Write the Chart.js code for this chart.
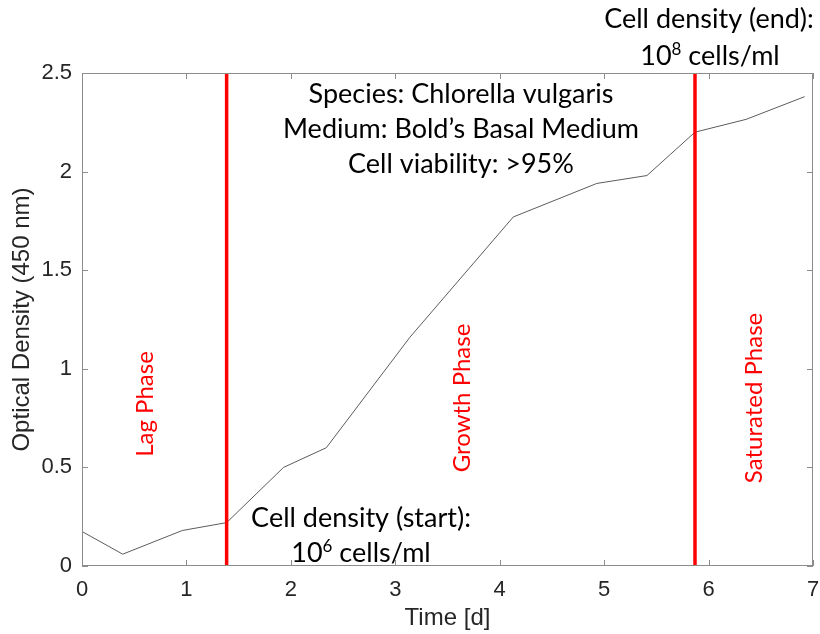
<!DOCTYPE html>
<html>
<head>
<meta charset="utf-8">
<script src="https://cdn.jsdelivr.net/npm/chart.js@4.4.1/dist/chart.umd.min.js"></script>
<style>
  html, body { margin: 0; padding: 0; background: #fff; overflow: hidden; }
  canvas { display: block; }
</style>
</head>
<body>
<canvas id="growth" width="820" height="634"></canvas>
<script>
// values
const timeDays = [0, 0.39, 0.96, 1.385, 1.93, 2.34, 3.14, 4.13, 4.93, 5.41, 5.87, 6.36, 6.92];
const opticalDensity = [0.175, 0.06, 0.18, 0.22, 0.50, 0.60, 1.16, 1.77, 1.94, 1.98, 2.20, 2.265, 2.38];
const phaseBoundaries = [1.385, 5.87];
const xTicks = [0, 1, 2, 3, 4, 5, 6, 7];
const yTicks = [0, 0.5, 1, 1.5, 2, 2.5];
const phaseLabels = ['Lag Phase', 'Growth Phase', 'Saturated Phase'];
const infoLines = ['Species: Chlorella vulgaris', 'Medium: Bold\u2019s Basal Medium', 'Cell viability: >95%'];

const TICK_FONT = { family: 'Liberation Sans, Arial, sans-serif', size: 22 };
const TEXT_FAMILY = 'Lato, sans-serif';
const AXIS_GRAY = '#8c8c8c';

// "10^n cells/ml" with a real superscript, centred on cx
function drawPower(ctx, exp, cx, baseline, size) {
  const big = size + 'px ' + TEXT_FAMILY;
  const small = Math.round(size * 0.62) + 'px ' + TEXT_FAMILY;
  ctx.font = big;
  const w1 = ctx.measureText('10').width;
  const w3 = ctx.measureText(' cells/ml').width;
  ctx.font = small;
  const w2 = ctx.measureText(exp).width;
  let x = cx - (w1 + w2 + w3) / 2;
  ctx.textAlign = 'left';
  ctx.textBaseline = 'alphabetic';
  ctx.font = big;
  ctx.fillText('10', x, baseline);
  ctx.font = small;
  ctx.fillText(exp, x + w1, baseline - size * 0.36);
  ctx.font = big;
  ctx.fillText(' cells/ml', x + w1 + w2, baseline);
}

function vertical(ctx, text, x, y, size, color) {
  ctx.save();
  ctx.translate(x, y);
  ctx.rotate(-Math.PI / 2);
  ctx.font = size + 'px ' + TEXT_FAMILY;
  ctx.fillStyle = color;
  ctx.textAlign = 'center';
  ctx.textBaseline = 'alphabetic';
  ctx.fillText(text, 0, 0);
  ctx.restore();
}

const frameAndNotes = {
  id: 'frameAndNotes',
  afterDatasetsDraw(chart) {
    const { ctx, chartArea: a, scales: { x, y } } = chart;
    ctx.save();
    // matlab style box with inward ticks on all sides
    ctx.strokeStyle = AXIS_GRAY;
    ctx.lineWidth = 1;
    ctx.strokeRect(a.left + 0.5, a.top + 0.5, a.right - a.left - 1, a.bottom - a.top - 1);
    ctx.beginPath();
    xTicks.forEach(v => {
      const px = Math.round(x.getPixelForValue(v)) + 0.5;
      ctx.moveTo(px, a.bottom); ctx.lineTo(px, a.bottom - 6);
      ctx.moveTo(px, a.top); ctx.lineTo(px, a.top + 6);
    });
    yTicks.forEach(v => {
      const py = Math.round(y.getPixelForValue(v)) + 0.5;
      ctx.moveTo(a.left, py); ctx.lineTo(a.left + 6, py);
      ctx.moveTo(a.right, py); ctx.lineTo(a.right - 6, py);
    });
    ctx.stroke();

    // phase names
    vertical(ctx, phaseLabels[0], 153, 404, 24, '#ff0000');
    vertical(ctx, phaseLabels[1], 470, 398, 24, '#ff0000');
    vertical(ctx, phaseLabels[2], 762, 398, 24, '#ff0000');

    // info block
    ctx.fillStyle = '#000';
    ctx.font = '27px ' + TEXT_FAMILY;
    ctx.textAlign = 'center';
    ctx.textBaseline = 'alphabetic';
    infoLines.forEach((t, i) => ctx.fillText(t, 461, 103 + i * 35));

    // densities
    ctx.font = '27px ' + TEXT_FAMILY;
    ctx.fillText('Cell density (start):', 361, 527);
    drawPower(ctx, '6', 361, 562, 27);
    ctx.font = '27px ' + TEXT_FAMILY;
    ctx.textAlign = 'center';
    ctx.fillText('Cell density (end):', 709, 28);
    drawPower(ctx, '8', 710, 65, 27);
    ctx.restore();
  }
};

const datasets = phaseBoundaries.map(b => ({
  data: [{ x: b, y: yTicks[0] }, { x: b, y: yTicks[yTicks.length - 1] }],
  borderColor: '#ff0000',
  borderWidth: 3.5,
  pointRadius: 0,
  order: 0
}));
datasets.push({
  data: timeDays.map((t, i) => ({ x: t, y: opticalDensity[i] })),
  borderColor: '#5c5c5c',
  borderWidth: 1,
  pointRadius: 0,
  tension: 0,
  order: 1
});

new Chart(document.getElementById('growth'), {
  type: 'line',
  data: { datasets },
  options: {
    responsive: false,
    animation: false,
    layout: { padding: { top: 73, right: 7, left: 0, bottom: 0 } },
    plugins: { legend: { display: false }, tooltip: { enabled: false } },
    scales: {
      x: {
        type: 'linear',
        min: 0,
        max: 7,
        afterBuildTicks: s => { s.ticks = xTicks.map(v => ({ value: v })); },
        afterFit: s => { s.height = 68; s.paddingLeft = 0; s.paddingRight = 0; },
        grid: { display: false, drawTicks: false },
        border: { display: false },
        ticks: { font: TICK_FONT, color: '#262626', padding: 11, maxRotation: 0, callback: v => String(v) },
        title: {
          display: true,
          text: 'Time [d]',
          font: { family: TICK_FONT.family, size: 24 },
          color: '#262626',
          padding: { top: 0, bottom: 1 }
        }
      },
      y: {
        min: 0,
        max: 2.5,
        afterBuildTicks: s => { s.ticks = yTicks.map(v => ({ value: v })); },
        afterFit: s => { s.width = 82; s.paddingTop = 0; s.paddingBottom = 0; },
        grid: { display: false, drawTicks: false },
        border: { display: false },
        ticks: { font: TICK_FONT, color: '#262626', padding: 10, callback: v => String(v) },
        title: {
          display: true,
          text: 'Optical Density (450 nm)',
          font: { family: TICK_FONT.family, size: 24 },
          color: '#262626',
          padding: { top: 8, bottom: 0 }
        }
      }
    }
  },
  plugins: [frameAndNotes]
});
</script>
</body>
</html>
